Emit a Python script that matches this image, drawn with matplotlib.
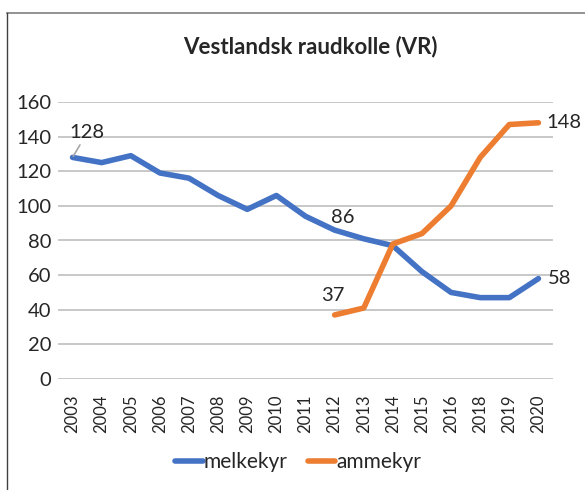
import numpy as np
import matplotlib.pyplot as plt
from matplotlib.lines import Line2D

years = ['2003', '2004', '2005', '2006', '2007', '2008', '2009', '2010', '2011',
         '2012', '2013', '2014', '2015', '2016', '2018', '2019', '2020']
melkekyr = [128, 125, 129, 119, 116, 106, 98, 106, 94, 86, 81, 77, 62, 50, 47, 47, 58]
ammekyr = [np.nan] * 9 + [37, 41, 78, 84, 100, 128, 147, 148]

blue = '#4472C4'
orange = '#ED7D31'
txt = '#262626'

plt.rcParams['font.family'] = ['Lato', 'DejaVu Sans']

fig = plt.figure(figsize=(5.85, 4.9), dpi=100)
ax = fig.add_axes([58 / 585, 1 - 379 / 490, (553 - 58) / 585, (379 - 102) / 490])

x = np.arange(len(years))
ax.plot(x, melkekyr, color=blue, lw=4, solid_capstyle='round', solid_joinstyle='round', label='melkekyr')
ax.plot(x, ammekyr, color=orange, lw=4, solid_capstyle='round', solid_joinstyle='round', label='ammekyr')

ax.set_xlim(-0.5, len(years) - 0.5)
ax.set_ylim(0, 160)
ax.set_yticks(range(0, 161, 20))
ax.set_xticks(x)
ax.set_xticklabels(years, rotation=90)
ax.tick_params(length=0, colors=txt)
ax.tick_params(axis='y', labelsize=14.5, pad=5)
ax.tick_params(axis='x', labelsize=12, pad=11)
ax.grid(axis='y', color='#bfbfbf', lw=1.2)
ax.set_axisbelow(True)
for s in ax.spines.values():
    s.set_visible(False)

# data labels
lbl = dict(fontsize=14.5, color=txt, va='center')
ax.annotate(str(melkekyr[0]), xy=(x[0], melkekyr[0]), xytext=(-2, 18), textcoords='offset points',
            ha='left', arrowprops=dict(arrowstyle='-', color='#a6a6a6', lw=1.2, shrinkA=1, shrinkB=1), **lbl)
ax.annotate(str(melkekyr[9]), xy=(x[9], melkekyr[9]), xytext=(6, 9), textcoords='offset points',
            ha='center', **lbl)
ax.annotate(str(ammekyr[9]), xy=(x[9], ammekyr[9]), xytext=(-1, 14), textcoords='offset points',
            ha='center', **lbl)
ax.annotate(str(ammekyr[-1]), xy=(x[-1], ammekyr[-1]), xytext=(6, 0), textcoords='offset points',
            ha='left', **lbl)
ax.annotate(str(melkekyr[-1]), xy=(x[-1], melkekyr[-1]), xytext=(7, 0), textcoords='offset points',
            ha='left', **lbl)

fig.text(0.53, 1 - 47 / 490, 'Vestlandsk raudkolle (VR)', ha='center', va='center',
         fontsize=16, fontweight='bold', color=txt)

handles, labels = ax.get_legend_handles_labels()
fig.legend(handles, labels, loc='center', bbox_to_anchor=(0.51, 1 - 462 / 490), ncol=2, frameon=False,
           fontsize=15, handlelength=1.3, handletextpad=0.05, columnspacing=1.0, labelcolor=txt)

# chart border
fig.add_artist(Line2D([7 / 585, 1], [1 - 13 / 490, 1 - 13 / 490], color='#7f7f7f', lw=1.2))
fig.add_artist(Line2D([7 / 585, 7 / 585], [0, 1 - 13 / 490], color='#404040', lw=1))

fig.savefig('out.png', dpi=100)
